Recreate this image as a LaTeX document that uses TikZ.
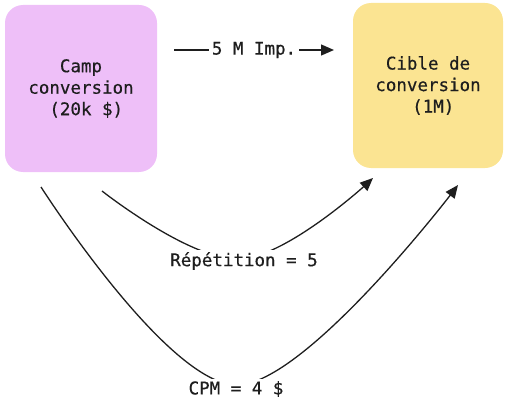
\documentclass[tikz,border=0pt]{standalone}
\usepackage{fontspec}
\newfontfamily\codefont[FakeBold=0.5]{DejaVu Sans Mono}
\usetikzlibrary{arrows.meta}
\definecolor{campviolet}{HTML}{EEBFF8}
\definecolor{cibleyellow}{HTML}{FBE492}
\definecolor{ink}{HTML}{1E1E1E}

\begin{document}
\begin{tikzpicture}[x=1pt, y=1pt, font=\codefont\fontsize{17.5}{21.5}\selectfont,
    text=ink, draw=ink,
    box/.style={rounded corners=18pt, align=center, inner sep=0pt},
    arr/.style={line width=1.3pt, -{Triangle[length=13pt, width=11pt]}},
    lbl/.style={fill=white, inner sep=2.5pt}]

    \useasboundingbox (0,0) rectangle (505,405);

    % 1. The two boxes
    \node[box, fill=campviolet, minimum width=152pt, minimum height=167pt]
        (camp) at (81,316.5) {Camp\\conversion\\~(20k \$)};
    \node[box, fill=cibleyellow, minimum width=150pt, minimum height=165pt]
        (cible) at (428,319.5) {Cible de\\conversion\\~(1M)};

    % 2. End points of the connectors
    \coordinate (imp1) at (174,355);
    \coordinate (imp2) at (334,355);
    \coordinate (rep1) at (102,214);
    \coordinate (repm) at (240,146);
    \coordinate (rep2) at (373,227);
    \coordinate (cpm1) at (41,218);
    \coordinate (cpmm) at (237,20);
    \coordinate (cpm2) at (458,220);

    % 3. Straight arrow on top
    \draw[arr] (imp1) -- (imp2) node[midway, lbl] (imp) {5 M Imp.};

    % 4. The two curved arrows, labels drawn over their lowest point
    \draw[arr] plot[smooth, tension=0.65] coordinates {(rep1) (repm) (rep2)};
    \draw[arr] plot[smooth, tension=0.6] coordinates {(cpm1) (cpmm) (cpm2)};
    \node[lbl] (rep) at (244,144) {Répétition = 5};
    \node[lbl] (cpm) at (236,16) {CPM = 4 \$};

\end{tikzpicture}
\end{document}
